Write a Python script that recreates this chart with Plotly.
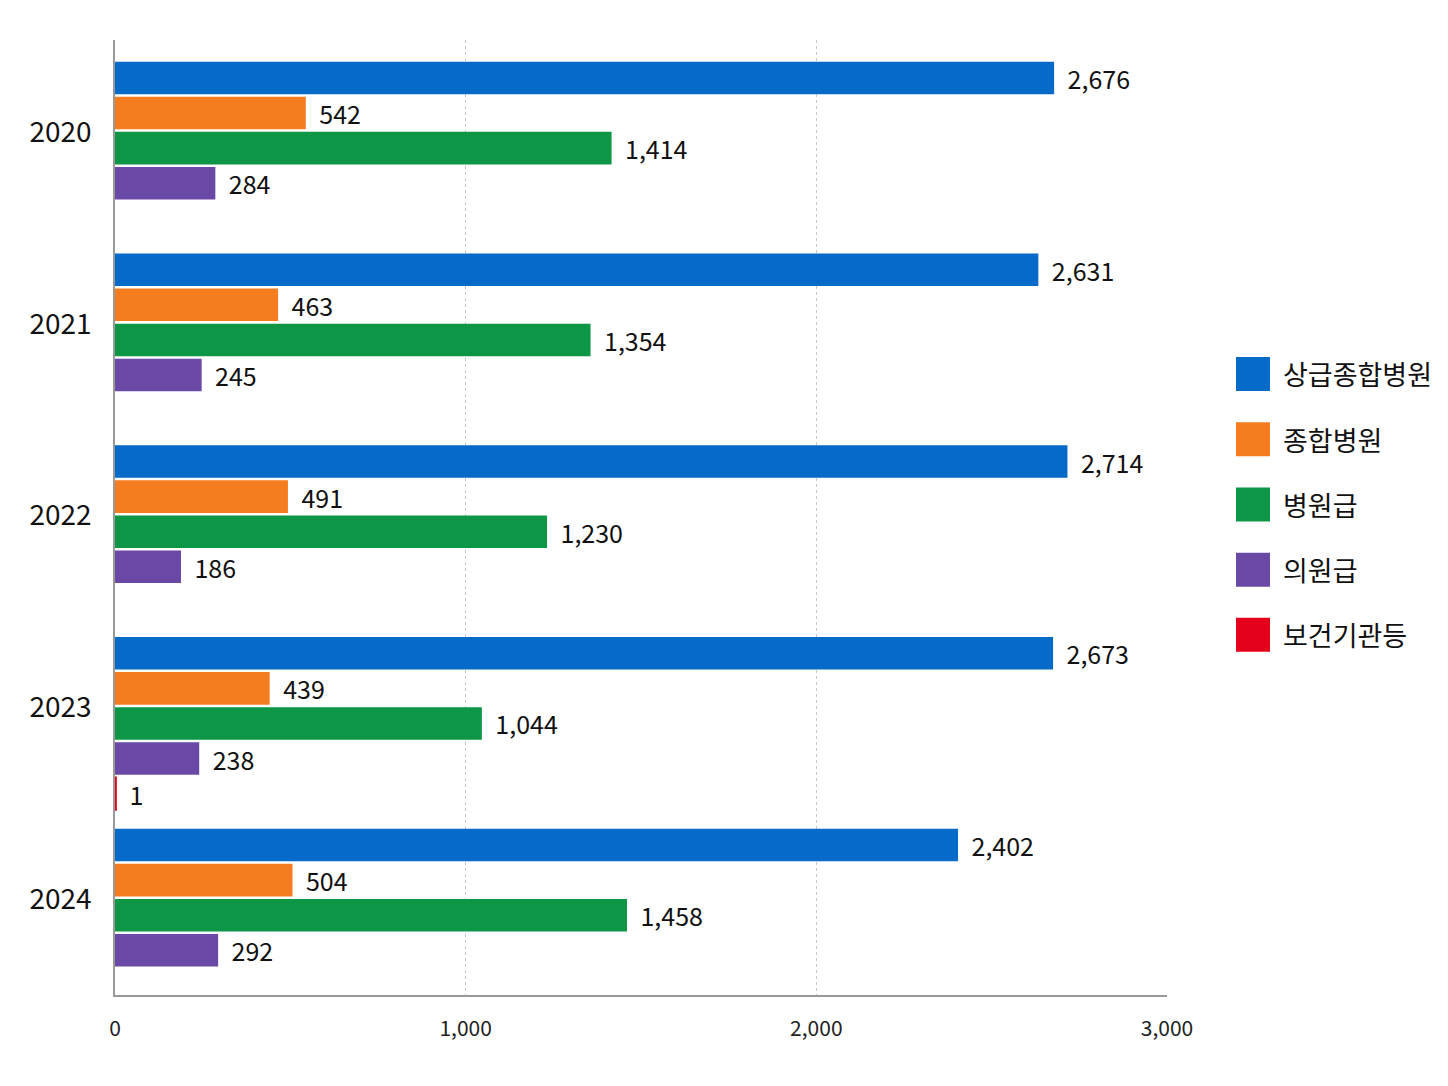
import plotly.graph_objects as go

# data
years = ['2020', '2021', '2022', '2023', '2024']
series_names = ['상급종합병원', '종합병원', '병원급', '의원급', '보건기관등']
tertiary = [2676, 2631, 2714, 2673, 2402]
general = [542, 463, 491, 439, 504]
hospital = [1414, 1354, 1230, 1044, 1458]
clinic = [284, 245, 186, 238, 292]
public_health = [None, None, None, 1, None]

colors = ['#066AC8', '#F57D20', '#0C9646', '#6A48A6', '#E4001B']
outline = [1.5, 1.5, 1.5, 1.5, 3]
font_family = 'Noto Sans CJK KR'

# bar slots inside each year (category units); the year label sits a bit above the group centre
bar_w = 0.162
slot = 0.183
first_offset = -0.363

fig = go.Figure()
for i, (name, vals) in enumerate(zip(series_names, [tertiary, general, hospital, clinic, public_health])):
    fig.add_trace(go.Bar(
        y=years, x=vals, name=name, orientation='h',
        width=bar_w, offset=first_offset + i * slot,
        marker=dict(color=colors[i], line=dict(width=outline[i], color=colors[i])),
        texttemplate='  %{x:,}', textposition='outside', cliponaxis=False,
        constraintext='none',
        textfont=dict(size=25, color='#111111', family=font_family),
        showlegend=False,
    ))

# legend drawn as big square swatches on the right
for i, name in enumerate(series_names):
    yc = 0.6503 - i * 0.0683
    fig.add_shape(type='rect', xref='paper', yref='paper',
                  x0=1.0656, x1=1.0979, y0=yc - 0.0178, y1=yc + 0.0178,
                  fillcolor=colors[i], line=dict(width=0))
    fig.add_annotation(text=name, xref='paper', yref='paper', x=1.108, y=yc,
                       xanchor='left', yanchor='middle', showarrow=False,
                       font=dict(size=27, color='#111111', family=font_family))

fig.update_layout(
    barmode='overlay',
    width=1440, height=1078,
    margin=dict(l=107, r=281, t=32, b=91),
    paper_bgcolor='white', plot_bgcolor='white',
    font=dict(family=font_family, color='#111111'),
)
fig.update_xaxes(range=[0, 3000], tickvals=[0, 1000, 2000, 3000], tickformat=',',
                 showgrid=True, gridcolor='#c8c8c8', griddash='dot', gridwidth=1,
                 showline=True, linecolor='#999999', linewidth=1.5,
                 zeroline=False, ticks='', ticklabelstandoff=14,
                 tickfont=dict(size=21, color='#222222'))
fig.update_yaxes(range=[4.5, -0.48], showline=True, linecolor='#999999', linewidth=1.5,
                 showgrid=False, ticks='', ticklabelstandoff=16,
                 tickfont=dict(size=28, color='#111111'))

fig.write_html("out.html")
